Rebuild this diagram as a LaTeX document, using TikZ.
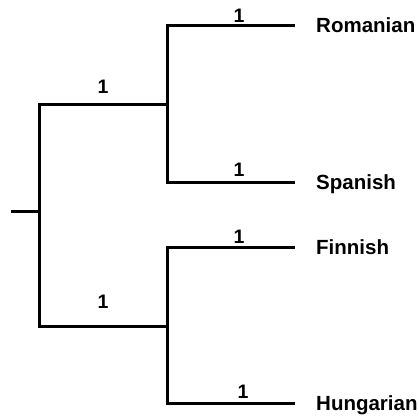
\documentclass[tikz,border=0pt]{standalone}
\usepackage{fontspec}
\setmainfont{Liberation Sans}
\begin{document}
\begin{tikzpicture}[x=1pt,y=-1pt,
  branch/.style={line width=3pt,line join=miter},
  taxon/.style={anchor=base west,inner sep=0pt,font=\fontsize{20.5}{24}\selectfont\bfseries},
  blen/.style={anchor=base,inner sep=0pt,font=\fontsize{19.5}{24}\selectfont\bfseries}]
\useasboundingbox (0,0) rectangle (419,419);
% tree nodes
\coordinate (stub) at (11,211);
\coordinate (root) at (39,211);
\coordinate (ab) at (167,105);
\coordinate (cd) at (167,326);
\coordinate (rom) at (295,26);
\coordinate (spa) at (295,183);
\coordinate (fin) at (295,247);
\coordinate (hun) at (295,403);
% branches
\draw[branch] (stub) -- (root);
\draw[branch] (root) |- (ab);
\draw[branch] (root) |- (cd);
\draw[branch] (ab) |- (rom);
\draw[branch] (ab) |- (spa);
\draw[branch] (cd) |- (fin);
\draw[branch] (cd) |- (hun);
% branch lengths
\node[blen] (l1) at (103,94) {1};
\node[blen] (l2) at (103,308) {1};
\node[blen] (l3) at (239,23) {1};
\node[blen] (l4) at (239,177) {1};
\node[blen] (l5) at (239,243) {1};
\node[blen] (l6) at (243,398) {1};
% taxa
\node[taxon] (trom) at (316,33) {Romanian};
\node[taxon] (tspa) at (316,190) {Spanish};
\node[taxon] (tfin) at (316,254) {Finnish};
\node[taxon] (thun) at (316,410) {Hungarian};
\end{tikzpicture}
\end{document}
